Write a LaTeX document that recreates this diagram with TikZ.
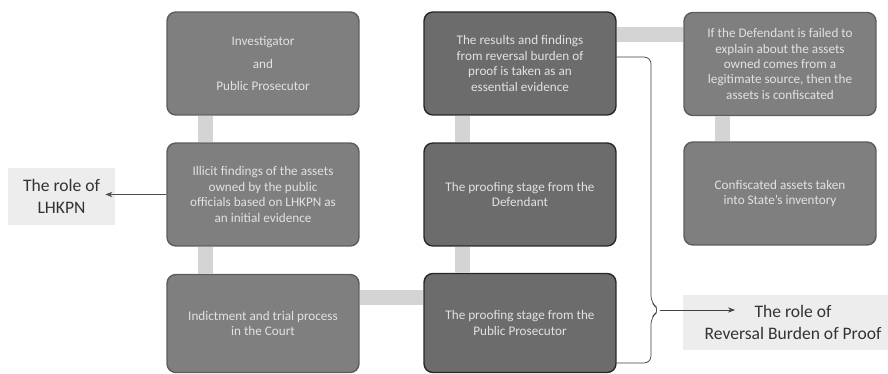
\documentclass[tikz,border=0pt]{standalone}
\usepackage{fontspec}
\setmainfont{Carlito}
\usetikzlibrary{arrows.meta, positioning, calc}
\definecolor{boxgray}{HTML}{7F7F7F}
\definecolor{boxedge}{HTML}{5C5C5C}
\definecolor{stagegray}{HTML}{6C6C6C}
\definecolor{stageedge}{HTML}{262626}
\definecolor{linkgray}{HTML}{D4D4D4}
\definecolor{rolebg}{HTML}{EDEDED}
\definecolor{boxtext}{HTML}{E2E2E2}

\begin{document}
\begin{tikzpicture}[
  x=0.02cm, y=-0.02cm,
  procbox/.style={draw=boxedge, fill=boxgray, line width=0.8pt,
    rounded corners=5pt, minimum width=3.84cm, minimum height=2.06cm,
    text=boxtext, align=center, font=\fontsize{7.5}{8.8}\selectfont},
  stagebox/.style={procbox, draw=stageedge, fill=stagegray},
  link/.style={line width=0.3cm, linkgray},
  role/.style={fill=rolebg, align=center, text=black!80,
    font=\fontsize{10}{12.5}\selectfont},
  >={Stealth[length=4pt, width=3pt]}
]
  \useasboundingbox (0,0) rectangle (888,374);

  % Left column
  \node[procbox] (inv) at (263,63.5)
    {Investigator\\[4pt]and\\[4pt]Public Prosecutor};
  \node[procbox] (ill) at (263,194.5)
    {Illicit findings of the assets\\owned by the public\\officials based on LHKPN as\\an initial evidence};
  \node[procbox, minimum height=1.96cm] (ind) at (263,323.5)
    {Indictment and trial process\\in the Court};

  % Middle column
  \node[stagebox] (res) at (520,63.5)
    {The results and findings\\from reversal burden of\\proof is taken as an\\essential evidence};
  \node[stagebox] (def) at (520,194.5)
    {The proofing stage from the\\Defendant};
  \node[stagebox, minimum height=1.98cm] (pp) at (520,323)
    {The proofing stage from the\\Public Prosecutor};

  % Right column
  \node[procbox] (fail) at (780,64)
    {If the Defendant is failed to\\explain about the assets\\owned comes from a\\legitimate source, then the\\assets is confiscated};
  \node[procbox] (conf) at (780,193.5)
    {Confiscated assets taken\\into State's inventory};

  % Links
  \foreach \a/\b in {inv/ill, ill/ind, res/def, def/pp, fail/conf} {
    \draw[link] ([xshift=-1.16cm]\a.south) -- ([xshift=-1.16cm]\b.north);
  }
  \draw[link] ([yshift=-0.48cm]ind.north east) -- ([yshift=-0.48cm]ind.north east -| pp.west);
  \draw[link] ([yshift=-0.46cm]res.north east) -- ([yshift=-0.46cm]res.north east -| fail.west);

  % Roles
  \node[role, minimum width=2.14cm, minimum height=1.14cm] (lhkpn) at (61.5,196.5)
    {The role of\\LHKPN};
  \node[role, minimum width=4.1cm, minimum height=1.1cm, inner xsep=0pt] (rbp) at (785.5,322.5)
    {\hspace{0.3cm}The role of\\\hspace{0.3cm}Reversal Burden of Proof};

  \draw[->, black!70, thin] (ill.west) -- ([xshift=-0.2cm]lhkpn.east |- ill.west);

  % Brace to the role of reversal burden of proof
  \coordinate (tip) at (660,310);
  \draw[black!75, thin, rounded corners=4pt]
    ([yshift=0.13cm]res.east) -- (651,57) -- (651,303) -- (tip)
    -- (651,317) -- (651,363) -- ([yshift=-0.8cm]pp.east);
  \draw[->, black!75, thin] (tip) -- (735,310);
\end{tikzpicture}
\end{document}
